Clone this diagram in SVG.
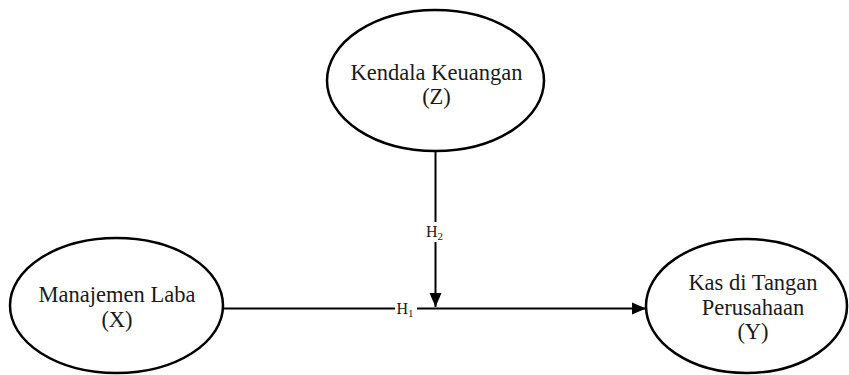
<svg xmlns="http://www.w3.org/2000/svg" width="849" height="375" viewBox="0 0 849 375">
<defs>
<style>
.node ellipse{fill:#fff;stroke:#000;stroke-width:2.5}
.lbl{font-family:"Liberation Serif","Times New Roman",serif;font-size:22.5px;fill:#1a1a1a;text-anchor:middle}
.h{font-family:"Liberation Serif","Times New Roman",serif;font-size:16px;fill:#1a1a1a}
.sub{font-size:11px}
.edge{stroke:#000;stroke-width:2;fill:none}
</style>
<marker id="arr" markerUnits="userSpaceOnUse" markerWidth="16" markerHeight="14" refX="14" refY="7" orient="auto">
<path d="M0,1 L14,7 L0,13 Z" fill="#000"/>
</marker>
</defs>
<rect width="849" height="375" fill="#fff"/>
<g id="connectors">
<line class="edge" x1="223" y1="308.5" x2="395" y2="308.5"/>
<line class="edge" x1="417" y1="308.5" x2="646" y2="308.5" marker-end="url(#arr)"/>
<line class="edge" x1="435.5" y1="152" x2="435.5" y2="222"/>
<line class="edge" x1="435.5" y1="242" x2="435.5" y2="307" marker-end="url(#arr)"/>
<text class="h" x="396.5" y="314">H<tspan class="sub" dy="3">1</tspan></text>
<text class="h" x="426" y="236.5">H<tspan class="sub" dy="3">2</tspan></text>
</g>
<g id="node-z" class="node">
<ellipse cx="435.5" cy="80.5" rx="108.5" ry="70.5"/>
<text class="lbl" x="436.5" y="80">Kendala Keuangan</text>
<text class="lbl" x="436.5" y="104">(Z)</text>
</g>
<g id="node-x" class="node">
<ellipse cx="116.5" cy="305.5" rx="106.5" ry="67.5"/>
<text class="lbl" x="117" y="302">Manajemen Laba</text>
<text class="lbl" x="117" y="327">(X)</text>
</g>
<g id="node-y" class="node">
<ellipse cx="746.5" cy="306" rx="100.5" ry="67"/>
<text class="lbl" x="753" y="290">Kas di Tangan</text>
<text class="lbl" x="753" y="315">Perusahaan</text>
<text class="lbl" x="753" y="339">(Y)</text>
</g>
</svg>
